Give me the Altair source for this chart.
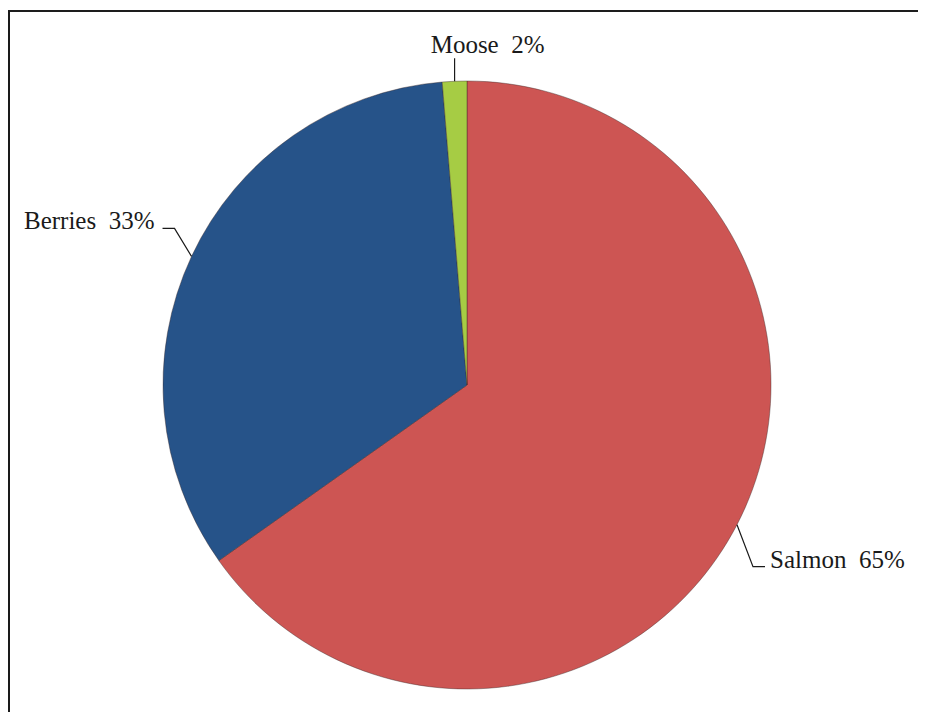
import math
import altair as alt
import pandas as pd

# ---- data ----
categories = ["Salmon", "Berries", "Moose"]
shares = [65.2, 33.5, 1.3]           # slice sizes (percent of circle)
label_pct = ["65%", "33%", "2%"]     # labels as printed
colors = ["#CD5553", "#265389", "#A6CC44"]

# ---- layout ----
W, H = 910, 704
CX, CY = 459, 377     # pie centre inside the view (px)
R = 304               # pie radius (px)
FONT = "Liberation Serif"

# label leader geometry, px offsets: (elbow dx, elbow dy), (end dx, end dy), (text dx, text dy), align
leader_layout = {
    "Salmon": ((16, 42), (12, 0), (5, 1), "left"),
    "Berries": ((-17, -28), (-12, 0), (-8, 1), "right"),
    "Moose": ((0, -23), (0, 0), (33, -5), "center"),
}

df = pd.DataFrame({"cat": categories, "share": shares, "idx": list(range(len(categories)))})

# mid angles of each slice (clockwise from 12 o'clock)
total = sum(shares)
cum = 0.0
line_rows, text_rows = [], []
for cat, s, pct in zip(categories, shares, label_pct):
    mid = (cum + s / 2) / total * 2 * math.pi
    cum += s
    ex, ey = math.sin(mid), math.cos(mid)          # edge point, radius units, y up
    (e1x, e1y), (e2x, e2y), (tx, ty), align = leader_layout[cat]
    p1 = (ex + e1x / R, ey - e1y / R)
    p2 = (p1[0] + e2x / R, p1[1] - e2y / R)
    for k, (x, y) in enumerate([(ex, ey), p1, p2]):
        line_rows.append({"cat": cat, "k": k, "x": x, "y": y})
    text_rows.append({"cat": cat, "label": f"{cat}\u00a0\u00a0{pct}", "x": p2[0] + tx / R,
                      "y": p2[1] - ty / R, "align": align})

lines_df = pd.DataFrame(line_rows)
text_df = pd.DataFrame(text_rows)

xs = alt.Scale(domain=[-CX / R, (W - CX) / R], nice=False, zero=False)
ys = alt.Scale(domain=[-(H - CY) / R, CY / R], nice=False, zero=False)

pie = alt.Chart(df).mark_arc(outerRadius=R, stroke="#3a2a2a", strokeWidth=0.7, strokeOpacity=0.6).encode(
    theta=alt.Theta("share:Q", stack=True),
    color=alt.Color("cat:N", scale=alt.Scale(domain=categories, range=colors), legend=None),
    order=alt.Order("idx:Q"),
    x=alt.value(CX),
    y=alt.value(CY),
)

leaders = alt.Chart(lines_df).mark_line(color="#1a1a1a", strokeWidth=1.2).encode(
    x=alt.X("x:Q", scale=xs, axis=None),
    y=alt.Y("y:Q", scale=ys, axis=None),
    detail="cat:N",
    order="k:Q",
)

texts = []
for al in ["left", "right", "center"]:
    sub = text_df[text_df["align"] == al]
    texts.append(
        alt.Chart(sub).mark_text(align=al, baseline="alphabetic", font=FONT, fontSize=25, color="#1a1a1a").encode(
            x=alt.X("x:Q", scale=xs, axis=None),
            y=alt.Y("y:Q", scale=ys, axis=None),
            text="label:N",
        )
    )

border_top = alt.Chart(df).mark_rule(color="#1a1a1a", strokeWidth=1.5).encode(
    x=alt.value(0), x2=alt.value(W), y=alt.value(3)
)
border_left = alt.Chart(df).mark_rule(color="#1a1a1a", strokeWidth=2).encode(
    x=alt.value(1), y=alt.value(3), y2=alt.value(H)
)

chart = alt.layer(pie, leaders, *texts, border_top, border_left).properties(
    width=W, height=H, autosize="none", padding=0
).configure_view(stroke=None)

chart.save("out.html", embed_options={"renderer": "svg", "actions": False})
